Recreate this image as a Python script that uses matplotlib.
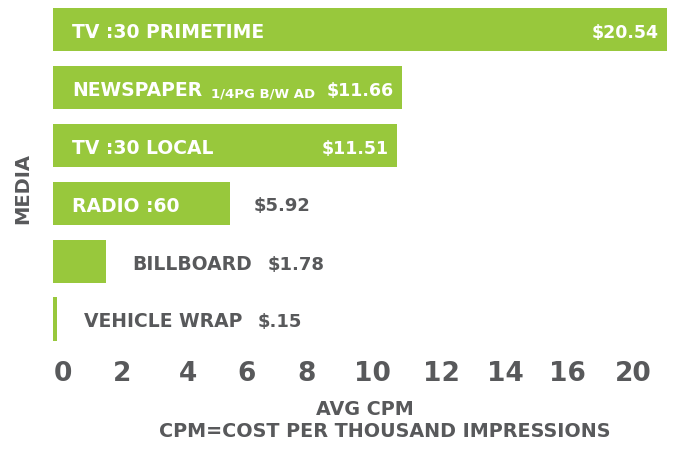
import matplotlib
matplotlib.use("Agg")
import matplotlib.pyplot as plt

# data
media = ["TV :30 PRIMETIME", "NEWSPAPER", "TV :30 LOCAL", "RADIO :60", "BILLBOARD", "VEHICLE WRAP"]
media_note = ["", "1/4PG B/W AD", "", "", "", ""]
cpm = [20.54, 11.66, 11.51, 5.92, 1.78, 0.15]
value_labels = ["$20.54", "$11.66", "$11.51", "$5.92", "$1.78", "$.15"]

# tick labels of the original are not evenly spaced
tick_labels = ["0", "2", "4", "6", "8", "10", "12", "14", "16", "20"]
tick_pos = [0.33, 2.31, 4.52, 6.49, 8.49, 10.67, 13.0, 15.12, 17.22, 19.4]

GREEN = "#98C83C"
GREY = "#58595B"

plt.rcParams["font.family"] = "DejaVu Sans"
plt.rcParams["font.weight"] = "bold"

fig = plt.figure(figsize=(6.74, 4.52), dpi=100)
ax = fig.add_axes([53 / 674, 102 / 452, 621 / 674, 350 / 452])

y = list(range(len(media)))
ax.barh(y, cpm, height=0.744, color=GREEN)
ax.set_xlim(0, 20.77)
ax.set_ylim(5.519, -0.536)

for i, (name, note, val, lab) in enumerate(zip(media, media_note, cpm, value_labels)):
    if val >= 5:
        # name sits inside the bar
        t = ax.annotate(name, xy=(0, i), xytext=(14, 0), textcoords="offset points",
                        color="white", fontsize=13.5, va="center_baseline", ha="left")
        if note:
            ax.annotate(note, xy=(1, 0), xycoords=t, xytext=(6, 0), textcoords="offset points",
                        color="white", fontsize=9.5, va="bottom", ha="left")
        if val >= 10:
            ax.annotate(lab, xy=(val, i), xytext=(-6, 0), textcoords="offset points",
                        color="white", fontsize=12.5, va="center_baseline", ha="right")
        else:
            ax.annotate(lab, xy=(val, i), xytext=(17, 0), textcoords="offset points",
                        color=GREY, fontsize=13, va="center_baseline", ha="left")
    else:
        t = ax.annotate(name, xy=(val, i), xytext=(19, 0), textcoords="offset points",
                        color=GREY, fontsize=13.5, va="center_baseline", ha="left")
        ax.annotate(lab, xy=(1, 0), xycoords=t, xytext=(11, 0), textcoords="offset points",
                    color=GREY, fontsize=13, va="bottom", ha="left")

ax.set_xticks(tick_pos)
ax.set_xticklabels(tick_labels, fontsize=19, color=GREY, fontweight="bold")
ax.set_yticks([])
ax.tick_params(axis="x", length=0, pad=8)
for s in ax.spines.values():
    s.set_visible(False)

fig.text(365 / 674, 1 - 410 / 452, "AVG CPM", ha="center", va="center",
         fontsize=13.8, color=GREY, fontweight="bold")
fig.text(385 / 674, 1 - 432 / 452, "CPM=COST PER THOUSAND IMPRESSIONS", ha="center", va="center",
         fontsize=13.8, color=GREY, fontweight="bold")
fig.text(23 / 674, 1 - 189 / 452, "MEDIA", rotation=90, ha="center", va="center",
         fontsize=14, color=GREY, fontweight="bold")

fig.savefig("out.png", dpi=100)
